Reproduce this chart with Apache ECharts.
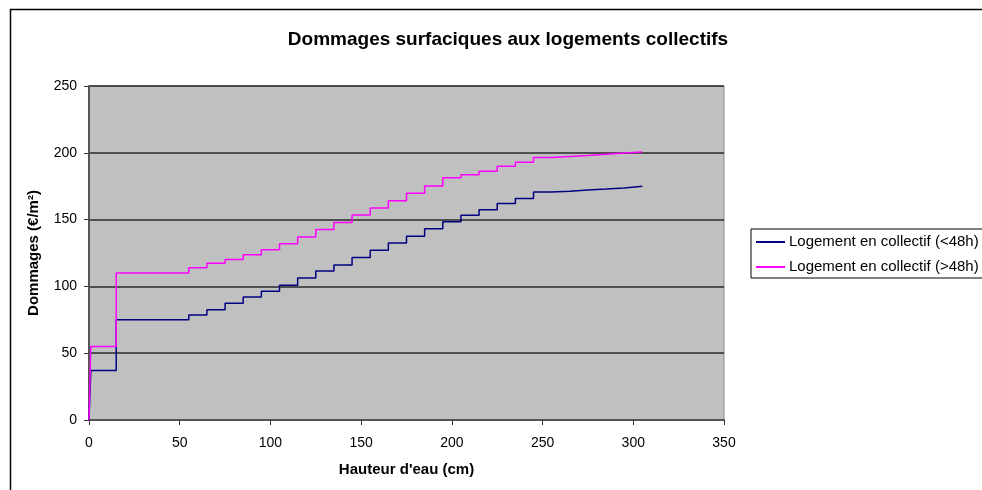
<!DOCTYPE html>
<html>
<head>
<meta charset="utf-8">
<script src="https://cdn.jsdelivr.net/npm/echarts@6/dist/echarts.min.js"></script>
<style>
html,body{margin:0;padding:0;background:#fff;}
#c{width:982px;height:490px;}
</style>
</head>
<body>
<div id="c"></div>
<script>
// Step breakpoints (cm): start of each constant segment, plus final end
const stepX = [1, 15, 55, 65, 75, 85, 95, 105, 115, 125, 135, 145, 155, 165, 175, 185, 195, 205, 215, 225, 235, 245, 255, 265, 275, 285, 295, 305];
// Damage levels (€/m²) for each segment
const levelsUnder48 = [37, 75, 78.6, 82.6, 87.3, 92.1, 96.3, 100.8, 106.3, 111.6, 116.1, 121.6, 127.1, 132.4, 137.6, 143.2, 148.4, 153.2, 157.4, 162, 165.7, 170.7, 171.2, 172.2, 172.9, 173.7, 174.9];
const levelsOver48 = [55, 110, 113.9, 117.4, 120.1, 123.6, 127.4, 131.9, 137, 142.6, 147.9, 153.4, 158.6, 164.2, 169.7, 175.2, 181.4, 183.6, 186.2, 189.9, 192.9, 196.4, 197.2, 197.9, 198.9, 199.9, 200.6];
const seriesNames = ['Logement en collectif (<48h)', 'Logement en collectif (>48h)'];
const xTicks = [0, 50, 100, 150, 200, 250, 300, 350];
const yTicks = [0, 50, 100, 150, 200, 250];

function buildSteps(levels) {
  const pts = [[0, 0]];
  for (let i = 0; i < levels.length; i++) {
    pts.push([stepX[i], levels[i]]);
    pts.push([stepX[i + 1], levels[i]]);
  }
  return pts;
}

const font = 'Liberation Sans, Arial, sans-serif';
const chart = echarts.init(document.getElementById('c'));
chart.setOption({
  animation: false,
  textStyle: { fontFamily: font },
  graphic: [{
    type: 'rect', left: 8, top: 7, z: -10,
    shape: { width: 1000, height: 500 },
    style: { fill: 'none', stroke: '#000', lineWidth: 1.5 }
  }],
  title: {
    text: 'Dommages surfaciques aux logements collectifs',
    left: 503, top: 25, textAlign: 'center',
    textStyle: { fontFamily: font, fontSize: 19, fontWeight: 'bold', color: '#000' }
  },
  legend: {
    left: 751, top: 229, orient: 'vertical',
    itemWidth: 29, itemHeight: 2, itemGap: 7,
    padding: [4, 10, 2, 5],
    borderColor: '#000', borderWidth: 1,
    icon: 'rect',
    textStyle: { fontFamily: font, fontSize: 15, color: '#000', padding: [0, 0, 0, -1], lineHeight: 18 },
    data: seriesNames
  },
  grid: {
    left: 89, right: 258, top: 86, bottom: 70,
    show: true, backgroundColor: '#c0c0c0', borderColor: '#8a8a8a', borderWidth: 1
  },
  xAxis: {
    type: 'value', min: 0, max: 350, interval: 50,
    name: "Hauteur d'eau (cm)", nameLocation: 'middle', nameGap: 42,
    nameTextStyle: { fontFamily: font, fontSize: 15, fontWeight: 'bold', color: '#000' },
    axisLine: { show: true, lineStyle: { color: '#555', width: 2 } },
    axisTick: { show: true, length: 5, lineStyle: { color: '#333' } },
    axisLabel: { fontFamily: font, fontSize: 14, color: '#000', margin: 16,
      formatter: v => xTicks.includes(v) ? String(v) : '' },
    splitLine: { show: false }
  },
  yAxis: {
    type: 'value', min: 0, max: 250, interval: 50,
    name: 'Dommages (€/m²)', nameLocation: 'middle', nameGap: 48, nameRotate: 90,
    nameTextStyle: { fontFamily: font, fontSize: 15, fontWeight: 'bold', color: '#000' },
    axisLine: { show: true, lineStyle: { color: '#555', width: 2 } },
    axisTick: { show: true, length: 5, lineStyle: { color: '#333' } },
    axisLabel: { fontFamily: font, fontSize: 14, color: '#000', margin: 12,
      formatter: v => yTicks.includes(v) ? String(v) : '' },
    splitLine: { show: true, lineStyle: { color: '#2a2a2a', width: 1.5 } }
  },
  series: [
    {
      name: seriesNames[0], type: 'line', showSymbol: false, symbol: 'none',
      data: buildSteps(levelsUnder48),
      lineStyle: { color: '#000080', width: 1.5 }, itemStyle: { color: '#000080' }
    },
    {
      name: seriesNames[1], type: 'line', showSymbol: false, symbol: 'none',
      data: buildSteps(levelsOver48),
      lineStyle: { color: '#ff00ff', width: 1.5 }, itemStyle: { color: '#ff00ff' }
    }
  ]
});
</script>
</body>
</html>
